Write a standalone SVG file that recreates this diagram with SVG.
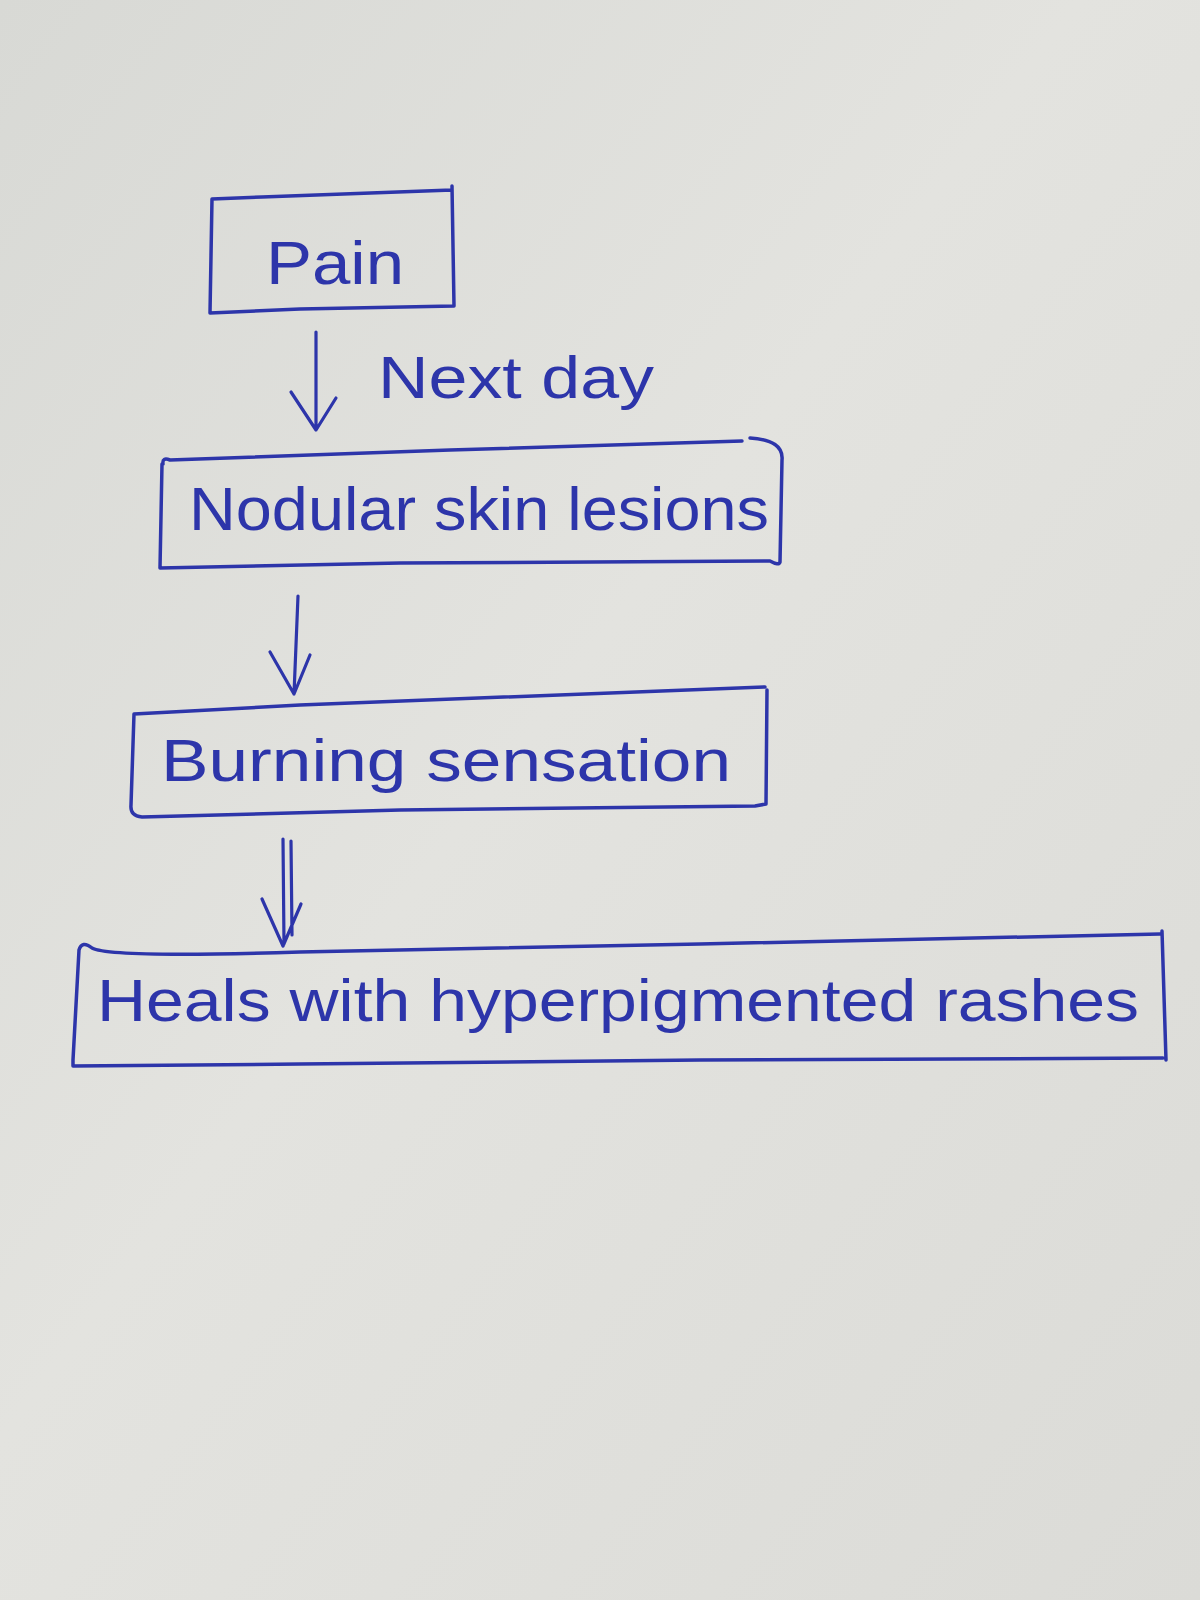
<svg xmlns="http://www.w3.org/2000/svg" width="1200" height="1600" viewBox="0 0 1200 1600">
<defs>
<linearGradient id="paper" x1="0" y1="0" x2="1" y2="1">
<stop offset="0" stop-color="#d8d9d5"/>
<stop offset="0.45" stop-color="#e3e3df"/>
<stop offset="1" stop-color="#dbdbd7"/>
</linearGradient>
</defs>
<style>
.box{fill:none;stroke:#2d35aa;stroke-width:3.5;stroke-linecap:round;stroke-linejoin:round}
.con{fill:none;stroke:#2d35aa;stroke-width:3.2;stroke-linecap:round;stroke-linejoin:round}
.lbl{font-family:"Liberation Sans","DejaVu Sans",sans-serif;fill:#2d35aa;font-weight:normal}
</style>
<rect x="0" y="0" width="1200" height="1600" fill="url(#paper)"/>

<g id="node-pain">
<path class="box" d="M212,199 L262,197 L452,190 M452,186 L454,306 L300,309 L210,313 M210,313 L212,199"/>
<text class="lbl" x="266" y="284" font-size="62" textLength="138" lengthAdjust="spacingAndGlyphs">Pain</text>
</g>

<g id="node-nodular">
<path class="box" d="M163,464 Q162,457 170,460 L450,450 L742,441 M750,438 Q784,440 782,460 L780,562 Q779,566 770,561 L400,563 L160,568 L162,464"/>
<text class="lbl" x="189" y="530" font-size="62" textLength="580" lengthAdjust="spacingAndGlyphs">Nodular skin lesions</text>
</g>

<g id="node-burning">
<path class="box" d="M134,714 L300,705 L765,687 M767,690 L766,804 L755,806 L400,810 L142,817 Q130,816 131,805 L134,714"/>
<text class="lbl" x="161" y="781" font-size="60" textLength="570" lengthAdjust="spacingAndGlyphs">Burning sensation</text>
</g>

<g id="node-heals">
<path class="box" d="M79,950 Q82,940 92,948 Q110,958 300,952 L700,944 L1160,934 M1162,931 L1166,1060 M1163,1058 L700,1060 L300,1064 L73,1066 L73,1060 L79,950"/>
<text class="lbl" x="97" y="1021" font-size="60" textLength="1042" lengthAdjust="spacingAndGlyphs">Heals with hyperpigmented rashes</text>
</g>

<g id="connectors">
<path class="con" d="M316,332 L316,430 M291,392 L316,430 L336,398"/>
<text class="lbl" x="378" y="398" font-size="60" textLength="276" lengthAdjust="spacingAndGlyphs">Next day</text>
<path class="con" d="M298,596 Q296,640 294,694 M270,652 L294,694 L310,655"/>
<path class="con" d="M283,839 L284,944 M291,841 L292,935 M262,899 L283,946 L301,904"/>
</g>
</svg>
